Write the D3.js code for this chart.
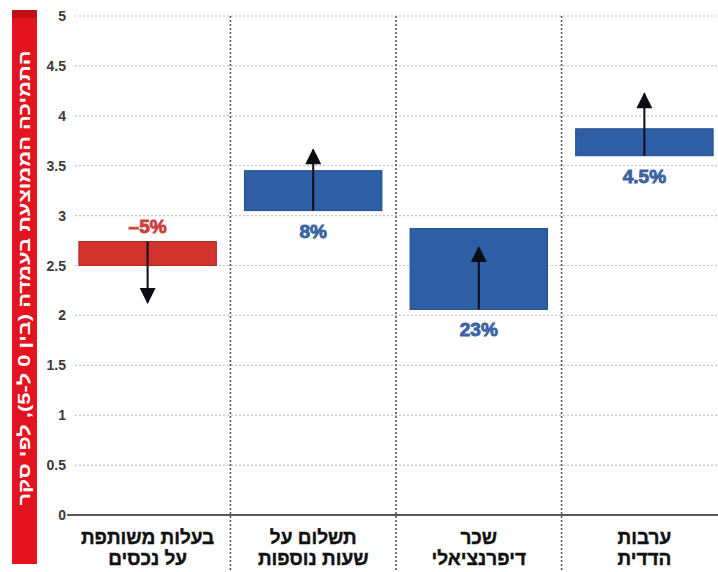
<!DOCTYPE html>
<html>
<head>
<meta charset="utf-8">
<script src="https://cdn.jsdelivr.net/npm/d3@7"></script>
<style>
  body { margin: 0; background: #fff; }
  text { font-family: "Liberation Sans", "DejaVu Sans", sans-serif; }
</style>
</head>
<body>
<svg id="chart" width="718" height="572"></svg>
<script>
// נתונים
var categories = [
  ["בעלות משותפת", "על נכסים"],
  ["תשלום על", "שעות נוספות"],
  ["שכר", "דיפרנציאלי"],
  ["ערבות", "הדדית"]
];
var barLow   = [2.5, 3.05, 2.06, 3.6];
var barHigh  = [2.74, 3.45, 2.87, 3.87];
var arrowFrom = [2.74, 3.05, 2.06, 3.6];
var arrowTo   = [2.13, 3.66, 2.68, 4.22];
var changeLabels = ["-5%", "8%", "23%", "4.5%"];
var yTicks = [0, 0.5, 1, 1.5, 2, 2.5, 3, 3.5, 4, 4.5, 5];
var yTitle = "התמיכה הממוצעת בעמדה (בין 0 ל-5), לפי סקר";

var svg = d3.select("#chart");

var x = d3.scaleBand()
  .domain(d3.range(categories.length))
  .range([64, 728])
  .paddingInner(0.17)
  .paddingOuter(0.09);
var step = x.step();

var y = d3.scaleLinear()
  .domain([0, 5])
  .range([515, 16]);

// פס אדום עם כותרת הציר
svg.append("rect")
  .attr("x", 12).attr("y", 10)
  .attr("width", 25).attr("height", 554)
  .attr("fill", "#e3141f");
svg.append("rect")
  .attr("x", 12).attr("y", 10)
  .attr("width", 25).attr("height", 8)
  .attr("fill", "#c10f18");
svg.append("text")
  .attr("transform", "translate(30," + 278 + ") rotate(-90)")
  .attr("text-anchor", "middle")
  .attr("direction", "rtl")
  .attr("fill", "#fff")
  .attr("font-size", 17)
  .attr("font-weight", "bold")
  .attr("textLength", 455)
  .attr("lengthAdjust", "spacingAndGlyphs")
  .text(yTitle);

// קווי רשת אופקיים
svg.append("g")
  .selectAll("line")
  .data(yTicks.filter(function(d){ return d > 0; }))
  .enter()
  .append("line")
  .attr("x1", 75).attr("x2", 718)
  .attr("y1", function(d){ return y(d); })
  .attr("y2", function(d){ return y(d); })
  .attr("stroke", "#c4c4c4")
  .attr("stroke-width", 1.2)
  .attr("stroke-dasharray", "2,2");

// תוויות ציר Y
svg.append("g")
  .selectAll("text")
  .data(yTicks)
  .enter()
  .append("text")
  .attr("x", 66)
  .attr("y", function(d){ return y(d) + 5; })
  .attr("text-anchor", "end")
  .attr("font-size", 14)
  .attr("font-weight", "bold")
  .attr("fill", "#3a3a3a")
  .text(function(d){ return d; });

// קווים מפרידים אנכיים
svg.append("g")
  .selectAll("line")
  .data(d3.range(1, categories.length))
  .enter()
  .append("line")
  .attr("x1", function(i){ return x(i) + x.bandwidth() / 2 - step / 2; })
  .attr("x2", function(i){ return x(i) + x.bandwidth() / 2 - step / 2; })
  .attr("y1", 16).attr("y2", 570)
  .attr("stroke", "#555")
  .attr("stroke-width", 1.6)
  .attr("stroke-dasharray", "2,2");

// קו בסיס
svg.append("line")
  .attr("x1", 67).attr("x2", 718)
  .attr("y1", y(0)).attr("y2", y(0))
  .attr("stroke", "#222")
  .attr("stroke-width", 1.5);

// עמודות
var isUp = function(i){ return arrowTo[i] > arrowFrom[i]; };
svg.append("g")
  .selectAll("rect")
  .data(d3.range(categories.length))
  .enter()
  .append("rect")
  .attr("x", function(i){ return x(i); })
  .attr("width", x.bandwidth())
  .attr("y", function(i){ return y(barHigh[i]); })
  .attr("height", function(i){ return y(barLow[i]) - y(barHigh[i]); })
  .attr("fill", function(i){ return isUp(i) ? "#2d5ea6" : "#d1342d"; })
  .attr("stroke", function(i){ return isUp(i) ? "#244e8c" : "#a8261f"; })
  .attr("stroke-width", 1);

// חצים
svg.append("defs").append("marker")
  .attr("id", "head")
  .attr("viewBox", "0 0 10 10")
  .attr("refX", 9).attr("refY", 5)
  .attr("markerWidth", 9).attr("markerHeight", 8)
  .attr("markerUnits", "strokeWidth")
  .attr("orient", "auto")
  .append("path")
  .attr("d", "M0,0 L10,5 L0,10 Z")
  .attr("fill", "#0d0d14");

svg.append("g")
  .selectAll("line")
  .data(d3.range(categories.length))
  .enter()
  .append("line")
  .attr("x1", function(i){ return x(i) + x.bandwidth() / 2; })
  .attr("x2", function(i){ return x(i) + x.bandwidth() / 2; })
  .attr("y1", function(i){ return y(arrowFrom[i]); })
  .attr("y2", function(i){ return y(arrowTo[i]); })
  .attr("stroke", "#0d0d14")
  .attr("stroke-width", 2)
  .attr("marker-end", "url(#head)");

// תוויות אחוזים
svg.append("g")
  .selectAll("text")
  .data(d3.range(categories.length))
  .enter()
  .append("text")
  .attr("x", function(i){ return x(i) + x.bandwidth() / 2; })
  .attr("y", function(i){
    return isUp(i) ? y(barLow[i]) + 27 : y(barHigh[i]) - 9;
  })
  .attr("text-anchor", "middle")
  .attr("direction", "ltr")
  .attr("font-size", 19)
  .attr("font-weight", "bold")
  .attr("fill", function(i){ return isUp(i) ? "#3a64a2" : "#c9413a"; })
  .attr("stroke", function(i){ return isUp(i) ? "#3a64a2" : "#c9413a"; })
  .attr("stroke-width", 0.9)
  .text(function(i){ return changeLabels[i].replace("-", "\u2013"); });

// תוויות קטגוריות
var cat = svg.append("g")
  .selectAll("text")
  .data(categories)
  .enter()
  .append("text")
  .attr("text-anchor", "middle")
  .attr("direction", "rtl")
  .attr("font-size", 19)
  .attr("font-weight", "bold")
  .attr("fill", "#111")
  .attr("stroke", "#111")
  .attr("stroke-width", 0.4);
cat.selectAll("tspan")
  .data(function(d, i){ return d.map(function(t, k){ return {t: t, k: k, i: i}; }); })
  .enter()
  .append("tspan")
  .attr("x", function(d){ return x(d.i) + x.bandwidth() / 2; })
  .attr("y", function(d){ return 544 + d.k * 21; })
  .text(function(d){ return d.t; });
</script>
</body>
</html>
